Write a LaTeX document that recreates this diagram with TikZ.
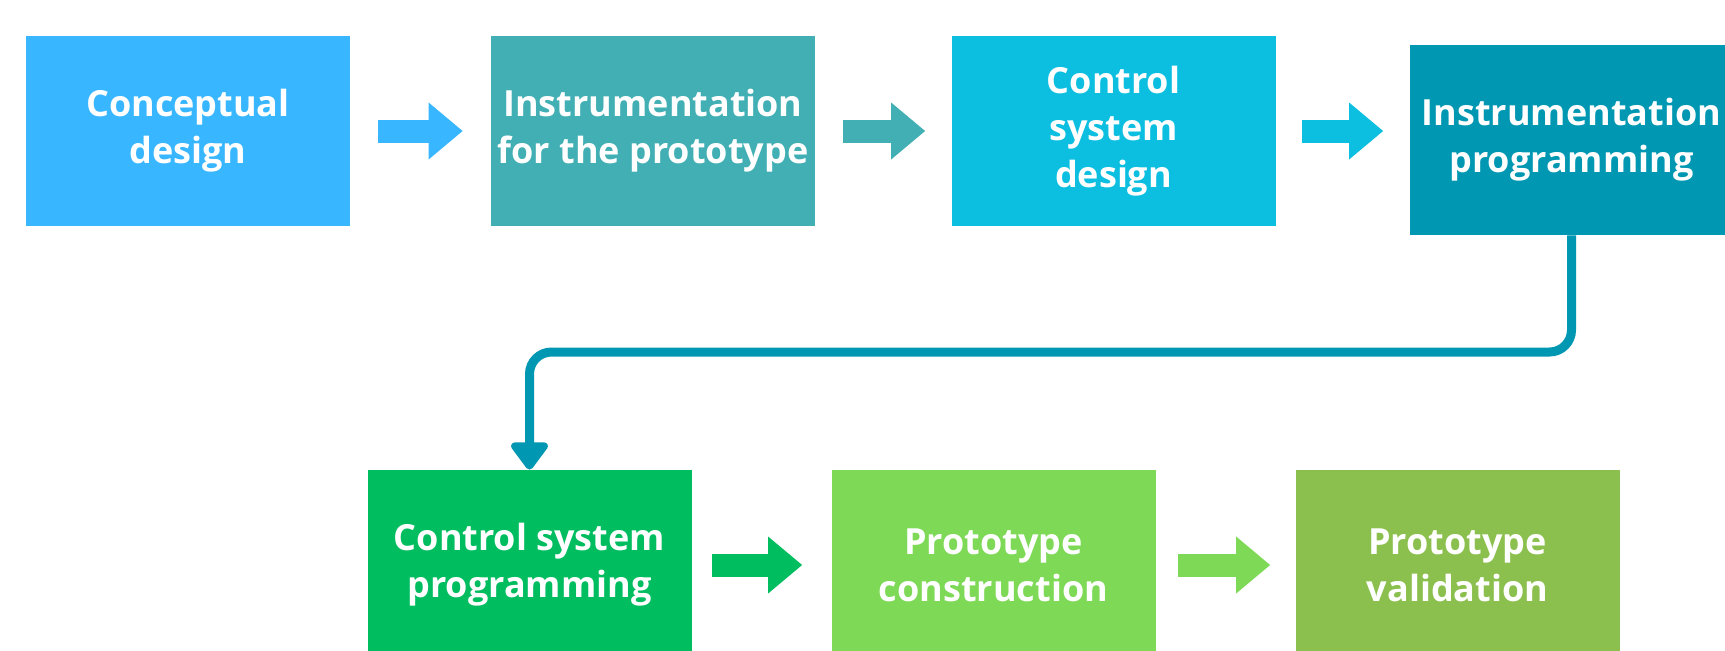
\documentclass[tikz,border=0pt]{standalone}
\usepackage{fontspec}
\setmainfont{Open Sans}
\usetikzlibrary{arrows.meta}
\definecolor{skyblue}{HTML}{38B6FF}
\definecolor{seateal}{HTML}{41AFB3}
\definecolor{brightcyan}{HTML}{0CBFE0}
\definecolor{deepteal}{HTML}{0097B2}
\definecolor{leafgreen}{HTML}{00BD5F}
\definecolor{limegreen}{HTML}{7ED957}
\definecolor{olivegreen}{HTML}{8CC04E}
\begin{document}
\begin{tikzpicture}[
    x=0.5pt, y=-0.5pt,
    stage/.style={fill=#1, text=white, align=center, inner sep=0pt,
      font=\bfseries\fontsize{18}{23.5}\selectfont,
      minimum width=162pt, minimum height=95pt},
    flow/.style={draw=#1, line width=11.5pt,
      -{Triangle[length=17pt,width=28.5pt,line width=0pt]}},
    loopback/.style={draw=deepteal, line width=4.5pt, rounded corners=11pt,
      -{Triangle[length=15pt,width=21pt,round]}}
]
  \useasboundingbox[fill=white] (0,0) rectangle (1725,650);
  % top row
  \node[stage=skyblue]    (concept) at (188,131)    {Conceptual\\design};
  \node[stage=seateal]    (instr)   at (653,131)    {Instrumentation\\for the prototype};
  \node[stage=brightcyan] (ctrl)    at (1113.5,131) {Control\\system\\design};
  \node[stage=deepteal]   (instprog) at (1571.5,140) {Instrumentation\\programming};
  % bottom row
  \node[stage=leafgreen]  (ctrlprog) at (529.5,565) {Control system\\programming};
  \node[stage=limegreen]  (build)    at (993.5,565) {Prototype\\construction};
  \node[stage=olivegreen] (valid)    at (1457.5,565) {Prototype\\validation};
  \coordinate (turn) at (0,352);

  \draw[flow=skyblue, shorten <=14pt, shorten >=14pt] (concept.east) -- (instr.west);
  \draw[flow=seateal, shorten <=14pt, shorten >=13pt] (instr.east) -- (ctrl.west);
  \draw[flow=brightcyan, shorten <=13pt, shorten >=13pt] (ctrl.east) -- (ctrl.east -| instprog.west);
  \draw[loopback] (instprog.south) -- (instprog.south |- turn) -| (ctrlprog.north);
  \draw[flow=leafgreen, shorten <=10pt, shorten >=14.5pt] (ctrlprog.east) -- (build.west);
  \draw[flow=limegreen, shorten <=11pt, shorten >=12.5pt] (build.east) -- (valid.west);
\end{tikzpicture}
\end{document}
